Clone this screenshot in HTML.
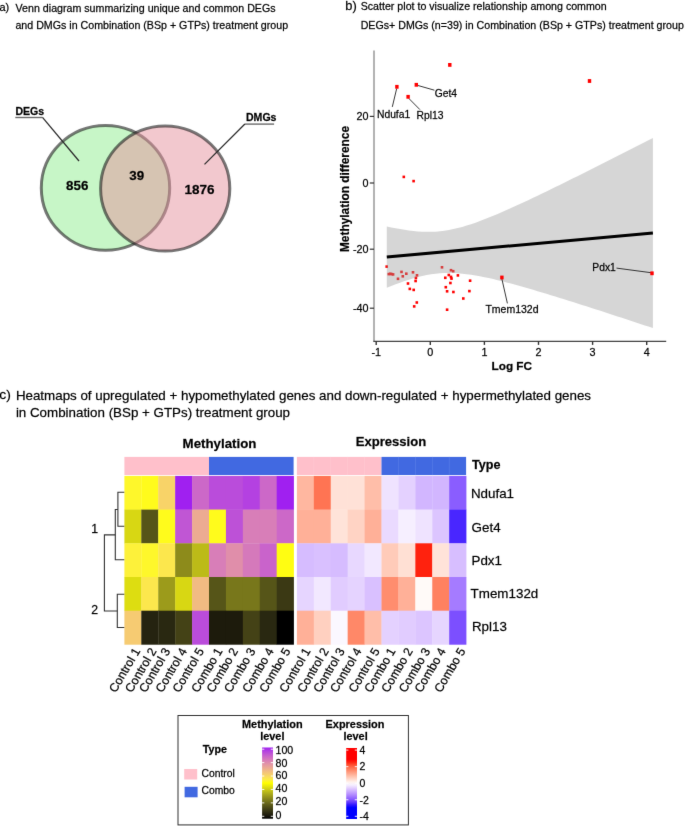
<!DOCTYPE html>
<html><head><meta charset="utf-8"><style>
html,body{margin:0;padding:0;background:#fff;}
svg{display:block;}
#w{width:685px;height:826px;}
text{font-family:"Liberation Sans", sans-serif;stroke:#000;stroke-width:0.3px;stroke-opacity:0.7;}
</style></head><body>
<div id="w"><svg width="685" height="826" viewBox="0 0 685 826">
<defs><linearGradient id="gm" x1="0" y1="0" x2="0" y2="1"><stop offset="0.00" stop-color="#a020f0"/><stop offset="0.05" stop-color="#b441e1"/><stop offset="0.10" stop-color="#c35ad1"/><stop offset="0.15" stop-color="#d171c1"/><stop offset="0.20" stop-color="#dc86b1"/><stop offset="0.25" stop-color="#e59ba0"/><stop offset="0.30" stop-color="#edaf8e"/><stop offset="0.35" stop-color="#f3c37a"/><stop offset="0.40" stop-color="#f8d763"/><stop offset="0.45" stop-color="#fceb46"/><stop offset="0.50" stop-color="#ffff00"/><stop offset="0.55" stop-color="#e3e210"/><stop offset="0.60" stop-color="#c7c617"/><stop offset="0.65" stop-color="#acab1a"/><stop offset="0.70" stop-color="#92901b"/><stop offset="0.75" stop-color="#78771b"/><stop offset="0.80" stop-color="#605e19"/><stop offset="0.85" stop-color="#484716"/><stop offset="0.90" stop-color="#323013"/><stop offset="0.95" stop-color="#1d1b0c"/><stop offset="1.00" stop-color="#000000"/></linearGradient>
<linearGradient id="ge" x1="0" y1="0" x2="0" y2="1"><stop offset="0.00" stop-color="#ff0000"/><stop offset="0.04" stop-color="#ff0000"/><stop offset="0.08" stop-color="#ff0000"/><stop offset="0.12" stop-color="#ff0000"/><stop offset="0.16" stop-color="#ff0000"/><stop offset="0.20" stop-color="#ff2410"/><stop offset="0.24" stop-color="#ff5233"/><stop offset="0.28" stop-color="#ff7251"/><stop offset="0.32" stop-color="#ff8e6f"/><stop offset="0.36" stop-color="#ffa88e"/><stop offset="0.40" stop-color="#ffc2ad"/><stop offset="0.44" stop-color="#ffdacd"/><stop offset="0.48" stop-color="#fff3ee"/><stop offset="0.52" stop-color="#f6f0ff"/><stop offset="0.56" stop-color="#e5d2ff"/><stop offset="0.60" stop-color="#d1b4ff"/><stop offset="0.64" stop-color="#bc97ff"/><stop offset="0.68" stop-color="#a57aff"/><stop offset="0.72" stop-color="#895cff"/><stop offset="0.76" stop-color="#673dff"/><stop offset="0.80" stop-color="#3117ff"/><stop offset="0.84" stop-color="#0000ff"/><stop offset="0.88" stop-color="#0000ff"/><stop offset="0.92" stop-color="#0000ff"/><stop offset="0.96" stop-color="#0000ff"/><stop offset="1.00" stop-color="#0000ff"/></linearGradient><filter id="bl" filterUnits="userSpaceOnUse" x="0" y="0" width="685" height="826" color-interpolation-filters="sRGB"><feConvolveMatrix order="3" kernelMatrix="0.00524 0.06192 0.00524 0.06192 0.73137 0.06192 0.00524 0.06192 0.00524" edgeMode="duplicate" preserveAlpha="true"/></filter></defs>
<rect width="685" height="826" fill="#fff"/>
<g filter="url(#bl)">
<rect width="685" height="826" fill="#fff"/>
<text x="-0.6" y="10.8" font-size="10.6" fill="#000" transform="matrix(1.03,0,0,1,0.018,0)">a)</text>
<text x="15.6" y="11.6" font-size="10.36" fill="#000" transform="matrix(1.03,0,0,1,-0.468,0)">Venn diagram summarizing unique and common DEGs</text>
<text x="15.4" y="29.2" font-size="10.36" fill="#000" transform="matrix(1.03,0,0,1,-0.462,0)">and DMGs in Combination (BSp + GTPs) treatment group</text>
<ellipse cx="105.5" cy="187.9" rx="64.2" ry="62.4" fill="rgb(144,238,144)" fill-opacity="0.5" stroke="#1e1e1e" stroke-opacity="0.6" stroke-width="3"/>
<ellipse cx="165.2" cy="188.5" rx="64.6" ry="62.6" fill="rgb(229,145,157)" fill-opacity="0.5" stroke="#1e1e1e" stroke-opacity="0.6" stroke-width="3"/>
<text x="77.3" y="189.9" font-size="13.0" font-weight="bold" text-anchor="middle" fill="#000" transform="matrix(1.03,0,0,1,-2.319,0)">856</text>
<text x="136.8" y="179.9" font-size="13.0" font-weight="bold" text-anchor="middle" fill="#000" transform="matrix(1.03,0,0,1,-4.104,0)">39</text>
<text x="199.6" y="193.9" font-size="13.1" font-weight="bold" text-anchor="middle" fill="#000" transform="matrix(1.03,0,0,1,-5.988,0)">1876</text>
<text x="15.4" y="115.1" font-size="10.15" font-weight="bold" fill="#000" transform="matrix(1.04,0,0,1,-0.616,0)">DEGs</text>
<line x1="15.3" y1="117.5" x2="42.5" y2="117.5" stroke="#6a6a6a" stroke-width="1.4" />
<line x1="42.5" y1="117.4" x2="79" y2="161" stroke="#2a2a2a" stroke-width="1.25" />
<text x="246.0" y="120.6" font-size="10.15" font-weight="bold" fill="#000" transform="matrix(1.04,0,0,1,-9.840,0)">DMGs</text>
<line x1="244.9" y1="124.1" x2="274.1" y2="124.1" stroke="#6a6a6a" stroke-width="1.4" />
<line x1="244.9" y1="124" x2="204.5" y2="164.4" stroke="#2a2a2a" stroke-width="1.25" />
<text x="345.3" y="9.6" font-size="12.45" fill="#000" transform="matrix(1.03,0,0,1,-10.359,0)">b)</text>
<text x="360.7" y="10.0" font-size="10.34" fill="#000" transform="matrix(1.03,0,0,1,-10.821,0)">Scatter plot to visualize relationship among common</text>
<text x="360.7" y="28.6" font-size="10.34" fill="#000" transform="matrix(1.03,0,0,1,-10.821,0)">DEGs+ DMGs (n=39) in Combination (BSp + GTPs) treatment group</text>
<rect x="402.50" y="175.60" width="2.60" height="2.60" fill="#ff0000" />
<rect x="412.30" y="179.80" width="2.60" height="2.60" fill="#ff0000" />
<rect x="385.40" y="265.30" width="2.60" height="2.60" fill="#ff0000" />
<rect x="387.50" y="272.80" width="2.60" height="2.60" fill="#ff0000" />
<rect x="389.00" y="272.50" width="2.60" height="2.60" fill="#ff0000" />
<rect x="390.30" y="272.80" width="2.60" height="2.60" fill="#ff0000" />
<rect x="391.80" y="273.10" width="2.60" height="2.60" fill="#ff0000" />
<rect x="396.70" y="277.50" width="2.60" height="2.60" fill="#ff0000" />
<rect x="400.20" y="270.60" width="2.60" height="2.60" fill="#ff0000" />
<rect x="401.50" y="275.00" width="2.60" height="2.60" fill="#ff0000" />
<rect x="405.00" y="272.40" width="2.60" height="2.60" fill="#ff0000" />
<rect x="406.70" y="282.20" width="2.60" height="2.60" fill="#ff0000" />
<rect x="408.50" y="287.60" width="2.60" height="2.60" fill="#ff0000" />
<rect x="412.40" y="288.60" width="2.60" height="2.60" fill="#ff0000" />
<rect x="411.70" y="271.00" width="2.60" height="2.60" fill="#ff0000" />
<rect x="415.70" y="274.00" width="2.60" height="2.60" fill="#ff0000" />
<rect x="414.60" y="276.60" width="2.60" height="2.60" fill="#ff0000" />
<rect x="414.30" y="279.70" width="2.60" height="2.60" fill="#ff0000" />
<rect x="415.50" y="301.20" width="2.60" height="2.60" fill="#ff0000" />
<rect x="412.90" y="305.10" width="2.60" height="2.60" fill="#ff0000" />
<rect x="440.70" y="266.00" width="2.60" height="2.60" fill="#ff0000" />
<rect x="449.70" y="268.90" width="2.60" height="2.60" fill="#ff0000" />
<rect x="451.90" y="269.90" width="2.60" height="2.60" fill="#ff0000" />
<rect x="447.50" y="273.70" width="2.60" height="2.60" fill="#ff0000" />
<rect x="444.00" y="276.50" width="2.60" height="2.60" fill="#ff0000" />
<rect x="449.70" y="275.60" width="2.60" height="2.60" fill="#ff0000" />
<rect x="450.20" y="277.30" width="2.60" height="2.60" fill="#ff0000" />
<rect x="456.60" y="274.10" width="2.60" height="2.60" fill="#ff0000" />
<rect x="468.80" y="279.40" width="2.60" height="2.60" fill="#ff0000" />
<rect x="449.10" y="281.70" width="2.60" height="2.60" fill="#ff0000" />
<rect x="444.50" y="285.90" width="2.60" height="2.60" fill="#ff0000" />
<rect x="445.80" y="290.00" width="2.60" height="2.60" fill="#ff0000" />
<rect x="452.10" y="290.70" width="2.60" height="2.60" fill="#ff0000" />
<rect x="468.10" y="289.80" width="2.60" height="2.60" fill="#ff0000" />
<rect x="462.00" y="297.20" width="2.60" height="2.60" fill="#ff0000" />
<rect x="445.80" y="308.40" width="2.60" height="2.60" fill="#ff0000" />
<path d="M386.80,226.41 L391.24,227.38 L395.67,228.28 L400.11,229.11 L404.54,229.85 L408.98,230.50 L413.41,231.04 L417.85,231.45 L422.28,231.73 L426.72,231.86 L431.15,231.83 L435.58,231.63 L440.02,231.26 L444.45,230.71 L448.89,229.99 L453.32,229.11 L457.76,228.07 L462.19,226.89 L466.63,225.59 L471.06,224.17 L475.50,222.66 L479.94,221.05 L484.37,219.37 L488.81,217.62 L493.24,215.81 L497.68,213.95 L502.11,212.04 L506.54,210.10 L510.98,208.12 L515.41,206.11 L519.85,204.08 L524.28,202.02 L528.72,199.94 L533.15,197.84 L537.59,195.72 L542.02,193.59 L546.46,191.45 L550.89,189.29 L555.33,187.12 L559.76,184.95 L564.20,182.76 L568.63,180.57 L573.07,178.36 L577.50,176.16 L581.94,173.94 L586.38,171.72 L590.81,169.50 L595.25,167.26 L599.68,165.03 L604.12,162.79 L608.55,160.55 L612.99,158.30 L617.42,156.05 L621.86,153.79 L626.29,151.54 L630.73,149.28 L635.16,147.02 L639.60,144.75 L644.03,142.49 L648.46,140.22 L652.90,137.95 L652.90,328.07 L648.46,326.60 L644.03,325.14 L639.60,323.67 L635.16,322.21 L630.73,320.75 L626.29,319.29 L621.86,317.84 L617.42,316.39 L612.99,314.94 L608.55,313.50 L604.12,312.06 L599.68,310.62 L595.25,309.19 L590.81,307.76 L586.38,306.33 L581.94,304.92 L577.50,303.50 L573.07,302.10 L568.63,300.70 L564.20,299.31 L559.76,297.92 L555.33,296.55 L550.89,295.18 L546.46,293.83 L542.02,292.49 L537.59,291.16 L533.15,289.85 L528.72,288.55 L524.28,287.27 L519.85,286.02 L515.41,284.78 L510.98,283.58 L506.54,282.40 L502.11,281.26 L497.68,280.15 L493.24,279.10 L488.81,278.09 L484.37,277.14 L479.94,276.26 L475.50,275.46 L471.06,274.74 L466.63,274.13 L462.19,273.63 L457.76,273.25 L453.32,273.02 L448.89,272.94 L444.45,273.02 L440.02,273.28 L435.58,273.71 L431.15,274.31 L426.72,275.08 L422.28,276.01 L417.85,277.09 L413.41,278.31 L408.98,279.65 L404.54,281.10 L400.11,282.65 L395.67,284.28 L391.24,285.99 L386.80,287.75 Z" fill="#999999" fill-opacity="0.4"/>
<line x1="386.8" y1="257.0819069069069" x2="652.9" y2="233.00904654654656" stroke="#000" stroke-width="3" />
<line x1="396.7" y1="88.5" x2="392.3" y2="106.9" stroke="#222" stroke-width="0.9" />
<line x1="418.0" y1="85.5" x2="434.4" y2="90.2" stroke="#222" stroke-width="0.9" />
<line x1="408.8" y1="98.4" x2="419.9" y2="109.6" stroke="#222" stroke-width="0.9" />
<line x1="501.9" y1="279" x2="507.4" y2="303.4" stroke="#222" stroke-width="0.9" />
<line x1="651" y1="272.7" x2="616.5" y2="268.1" stroke="#222" stroke-width="0.9" />
<rect x="448.10" y="63.00" width="3.40" height="3.80" fill="#ff0000" />
<rect x="587.80" y="79.10" width="3.40" height="3.80" fill="#ff0000" />
<rect x="395.20" y="84.90" width="3.40" height="3.80" fill="#ff0000" />
<rect x="414.60" y="82.90" width="3.40" height="3.80" fill="#ff0000" />
<rect x="406.40" y="94.90" width="3.40" height="3.80" fill="#ff0000" />
<rect x="500.20" y="275.60" width="3.40" height="3.80" fill="#ff0000" />
<rect x="650.30" y="271.40" width="3.40" height="3.80" fill="#ff0000" />
<text x="377.0" y="117.8" font-size="10.0" fill="#000" transform="matrix(1.03,0,0,1,-11.310,0)">Ndufa1</text>
<text x="434.8" y="96.7" font-size="10.0" fill="#000" transform="matrix(1.03,0,0,1,-13.044,0)">Get4</text>
<text x="416.6" y="119.4" font-size="10.0" fill="#000" transform="matrix(1.03,0,0,1,-12.498,0)">Rpl13</text>
<text x="485.4" y="312.8" font-size="10.2" fill="#000" transform="matrix(1.03,0,0,1,-14.562,0)">Tmem132d</text>
<text x="592.3" y="271.0" font-size="10.0" fill="#000" transform="matrix(1.03,0,0,1,-17.769,0)">Pdx1</text>
<line x1="374.0" y1="50.5" x2="374.0" y2="341.3" stroke="#999" stroke-width="1.5" />
<line x1="373.3" y1="341.3" x2="666.2" y2="341.3" stroke="#444" stroke-width="1.2" />
<line x1="369.8" y1="116.4" x2="374" y2="116.4" stroke="#333" stroke-width="1.2" />
<text x="368.6" y="120.30000000000001" font-size="10.5" text-anchor="end" fill="#000" transform="matrix(1.03,0,0,1,-11.058,0)">20</text>
<line x1="369.8" y1="183.0" x2="374" y2="183.0" stroke="#333" stroke-width="1.2" />
<text x="368.6" y="186.9" font-size="10.5" text-anchor="end" fill="#000" transform="matrix(1.03,0,0,1,-11.058,0)">0</text>
<line x1="369.8" y1="249.2" x2="374" y2="249.2" stroke="#333" stroke-width="1.2" />
<text x="368.6" y="253.1" font-size="10.5" text-anchor="end" fill="#000" transform="matrix(1.03,0,0,1,-11.058,0)">-20</text>
<line x1="369.8" y1="308.2" x2="374" y2="308.2" stroke="#333" stroke-width="1.2" />
<text x="368.6" y="312.09999999999997" font-size="10.5" text-anchor="end" fill="#000" transform="matrix(1.03,0,0,1,-11.058,0)">-40</text>
<line x1="376.2" y1="341.3" x2="376.2" y2="344.9" stroke="#333" stroke-width="1.4" />
<text x="376.2" y="356.2" font-size="10.5" text-anchor="middle" fill="#000" transform="matrix(1.03,0,0,1,-11.286,0)">-1</text>
<line x1="430.3" y1="341.3" x2="430.3" y2="344.9" stroke="#333" stroke-width="1.4" />
<text x="430.3" y="356.2" font-size="10.5" text-anchor="middle" fill="#000" transform="matrix(1.03,0,0,1,-12.909,0)">0</text>
<line x1="484.40000000000003" y1="341.3" x2="484.40000000000003" y2="344.9" stroke="#333" stroke-width="1.4" />
<text x="484.40000000000003" y="356.2" font-size="10.5" text-anchor="middle" fill="#000" transform="matrix(1.03,0,0,1,-14.532,0)">1</text>
<line x1="538.5" y1="341.3" x2="538.5" y2="344.9" stroke="#333" stroke-width="1.4" />
<text x="538.5" y="356.2" font-size="10.5" text-anchor="middle" fill="#000" transform="matrix(1.03,0,0,1,-16.155,0)">2</text>
<line x1="592.6" y1="341.3" x2="592.6" y2="344.9" stroke="#333" stroke-width="1.4" />
<text x="592.6" y="356.2" font-size="10.5" text-anchor="middle" fill="#000" transform="matrix(1.03,0,0,1,-17.778,0)">3</text>
<line x1="646.7" y1="341.3" x2="646.7" y2="344.9" stroke="#333" stroke-width="1.4" />
<text x="646.7" y="356.2" font-size="10.5" text-anchor="middle" fill="#000" transform="matrix(1.03,0,0,1,-19.401,0)">4</text>
<text x="511.8" y="369.8" font-size="11.45" font-weight="bold" text-anchor="middle" fill="#000" transform="matrix(1.03,0,0,1,-15.354,0)">Log FC</text>
<text x="0" y="0" font-size="11.9" font-weight="bold" text-anchor="middle" fill="#000" transform="translate(349.2,189) scale(1.03,1) rotate(-90)">Methylation difference</text>
<text x="-0.7" y="398.6" font-size="13.5" fill="#000" transform="matrix(1.03,0,0,1,0.021,0)">c)</text>
<text x="15.9" y="399.6" font-size="12.98" fill="#000" transform="matrix(1.03,0,0,1,-0.477,0)">Heatmaps of upregulated + hypomethylated genes and down-regulated + hypermethylated genes</text>
<text x="15.9" y="417.4" font-size="12.98" fill="#000" transform="matrix(1.03,0,0,1,-0.477,0)">in Combination (BSp + GTPs) treatment group</text>
<rect x="124.40" y="456.90" width="84.60" height="18.15" fill="#ffc0cb" />
<rect x="209.00" y="456.90" width="84.60" height="18.15" fill="#4169e1" />
<rect x="296.90" y="456.90" width="84.60" height="18.15" fill="#ffc0cb" />
<rect x="381.50" y="456.90" width="84.60" height="18.15" fill="#4169e1" />
<rect x="313.52" y="456.90" width="0.60" height="18.15" fill="#ffcad3" />
<rect x="330.44" y="456.90" width="0.60" height="18.15" fill="#ffcad3" />
<rect x="347.36" y="456.90" width="0.60" height="18.15" fill="#ffcad3" />
<rect x="364.28" y="456.90" width="0.60" height="18.15" fill="#ffcad3" />
<rect x="398.12" y="456.90" width="0.60" height="18.15" fill="#5a7fe8" />
<rect x="415.04" y="456.90" width="0.60" height="18.15" fill="#5a7fe8" />
<rect x="431.96" y="456.90" width="0.60" height="18.15" fill="#5a7fe8" />
<rect x="448.88" y="456.90" width="0.60" height="18.15" fill="#5a7fe8" />
<rect x="124.40" y="475.90" width="17.22" height="34.00" fill="#fef72b" />
<rect x="296.90" y="475.90" width="17.22" height="34.00" fill="#ffb7a0" />
<rect x="141.32" y="475.90" width="17.22" height="34.00" fill="#fffb1c" />
<rect x="313.82" y="475.90" width="17.22" height="34.00" fill="#ff7453" />
<rect x="158.24" y="475.90" width="17.22" height="34.00" fill="#f8d368" />
<rect x="330.74" y="475.90" width="17.22" height="34.00" fill="#ffe1d7" />
<rect x="175.16" y="475.90" width="17.22" height="34.00" fill="#a020f0" />
<rect x="347.66" y="475.90" width="17.22" height="34.00" fill="#ffe1d7" />
<rect x="192.08" y="475.90" width="17.22" height="34.00" fill="#cc68c8" />
<rect x="364.58" y="475.90" width="17.22" height="34.00" fill="#ffbea9" />
<rect x="209.00" y="475.90" width="17.22" height="34.00" fill="#ba4cdb" />
<rect x="381.50" y="475.90" width="17.22" height="34.00" fill="#efe3ff" />
<rect x="225.92" y="475.90" width="17.22" height="34.00" fill="#ba4cdb" />
<rect x="398.42" y="475.90" width="17.22" height="34.00" fill="#e4d1ff" />
<rect x="242.84" y="475.90" width="17.22" height="34.00" fill="#b441e1" />
<rect x="415.34" y="475.90" width="17.22" height="34.00" fill="#d2b6ff" />
<rect x="259.76" y="475.90" width="17.22" height="34.00" fill="#cc68c8" />
<rect x="432.26" y="475.90" width="17.22" height="34.00" fill="#d2b6ff" />
<rect x="276.68" y="475.90" width="17.22" height="34.00" fill="#a020f0" />
<rect x="449.18" y="475.90" width="17.22" height="34.00" fill="#8a5dff" />
<rect x="124.40" y="509.60" width="17.22" height="34.00" fill="#d8d713" />
<rect x="296.90" y="509.60" width="17.22" height="34.00" fill="#ffb098" />
<rect x="141.32" y="509.60" width="17.22" height="34.00" fill="#565518" />
<rect x="313.82" y="509.60" width="17.22" height="34.00" fill="#ffb098" />
<rect x="158.24" y="509.60" width="17.22" height="34.00" fill="#fffb1c" />
<rect x="330.74" y="509.60" width="17.22" height="34.00" fill="#ffe3d9" />
<rect x="175.16" y="509.60" width="17.22" height="34.00" fill="#c056d4" />
<rect x="347.66" y="509.60" width="17.22" height="34.00" fill="#ffd3c4" />
<rect x="192.08" y="509.60" width="17.22" height="34.00" fill="#ecab92" />
<rect x="364.58" y="509.60" width="17.22" height="34.00" fill="#ffb098" />
<rect x="209.00" y="509.60" width="17.22" height="34.00" fill="#fffb1c" />
<rect x="381.50" y="509.60" width="17.22" height="34.00" fill="#eadaff" />
<rect x="225.92" y="509.60" width="17.22" height="34.00" fill="#bd51d7" />
<rect x="398.42" y="509.60" width="17.22" height="34.00" fill="#f6efff" />
<rect x="242.84" y="509.60" width="17.22" height="34.00" fill="#d87eb8" />
<rect x="415.34" y="509.60" width="17.22" height="34.00" fill="#efe3ff" />
<rect x="259.76" y="509.60" width="17.22" height="34.00" fill="#d87eb8" />
<rect x="432.26" y="509.60" width="17.22" height="34.00" fill="#dcc5ff" />
<rect x="276.68" y="509.60" width="17.22" height="34.00" fill="#cc68c8" />
<rect x="449.18" y="509.60" width="17.22" height="34.00" fill="#4926ff" />
<rect x="124.40" y="543.30" width="17.22" height="34.00" fill="#fdf13a" />
<rect x="296.90" y="543.30" width="17.22" height="34.00" fill="#d6bcff" />
<rect x="141.32" y="543.30" width="17.22" height="34.00" fill="#fef72b" />
<rect x="313.82" y="543.30" width="17.22" height="34.00" fill="#d9c0ff" />
<rect x="158.24" y="543.30" width="17.22" height="34.00" fill="#fce74d" />
<rect x="330.74" y="543.30" width="17.22" height="34.00" fill="#d6bcff" />
<rect x="175.16" y="543.30" width="17.22" height="34.00" fill="#8d8b1b" />
<rect x="347.66" y="543.30" width="17.22" height="34.00" fill="#e8d8ff" />
<rect x="192.08" y="543.30" width="17.22" height="34.00" fill="#bcbb18" />
<rect x="364.58" y="543.30" width="17.22" height="34.00" fill="#f2e8ff" />
<rect x="209.00" y="543.30" width="17.22" height="34.00" fill="#d87eb8" />
<rect x="381.50" y="543.30" width="17.22" height="34.00" fill="#ffcbb9" />
<rect x="225.92" y="543.30" width="17.22" height="34.00" fill="#e08eaa" />
<rect x="398.42" y="543.30" width="17.22" height="34.00" fill="#ffe0d4" />
<rect x="242.84" y="543.30" width="17.22" height="34.00" fill="#d579bb" />
<rect x="415.34" y="543.30" width="17.22" height="34.00" fill="#ff220e" />
<rect x="259.76" y="543.30" width="17.22" height="34.00" fill="#c963cb" />
<rect x="432.26" y="543.30" width="17.22" height="34.00" fill="#ffe3d9" />
<rect x="276.68" y="543.30" width="17.22" height="34.00" fill="#fffd12" />
<rect x="449.18" y="543.30" width="17.22" height="34.00" fill="#d7beff" />
<rect x="124.40" y="577.00" width="17.22" height="34.00" fill="#dddd11" />
<rect x="296.90" y="577.00" width="17.22" height="34.00" fill="#e6d5ff" />
<rect x="141.32" y="577.00" width="17.22" height="34.00" fill="#fce74d" />
<rect x="313.82" y="577.00" width="17.22" height="34.00" fill="#f2e8ff" />
<rect x="158.24" y="577.00" width="17.22" height="34.00" fill="#9c9b1b" />
<rect x="330.74" y="577.00" width="17.22" height="34.00" fill="#e1ccff" />
<rect x="175.16" y="577.00" width="17.22" height="34.00" fill="#d8d713" />
<rect x="347.66" y="577.00" width="17.22" height="34.00" fill="#e5d3ff" />
<rect x="192.08" y="577.00" width="17.22" height="34.00" fill="#f1bb82" />
<rect x="364.58" y="577.00" width="17.22" height="34.00" fill="#d9c0ff" />
<rect x="209.00" y="577.00" width="17.22" height="34.00" fill="#565518" />
<rect x="381.50" y="577.00" width="17.22" height="34.00" fill="#ff8d6e" />
<rect x="225.92" y="577.00" width="17.22" height="34.00" fill="#78771b" />
<rect x="398.42" y="577.00" width="17.22" height="34.00" fill="#ffb098" />
<rect x="242.84" y="577.00" width="17.22" height="34.00" fill="#78771b" />
<rect x="415.34" y="577.00" width="17.22" height="34.00" fill="#fffaf8" />
<rect x="259.76" y="577.00" width="17.22" height="34.00" fill="#565518" />
<rect x="432.26" y="577.00" width="17.22" height="34.00" fill="#ff8160" />
<rect x="276.68" y="577.00" width="17.22" height="34.00" fill="#3b3914" />
<rect x="449.18" y="577.00" width="17.22" height="34.00" fill="#a57bff" />
<rect x="124.40" y="610.70" width="17.22" height="34.00" fill="#f6cb72" />
<rect x="296.90" y="610.70" width="17.22" height="34.00" fill="#ffb098" />
<rect x="141.32" y="610.70" width="17.22" height="34.00" fill="#252310" />
<rect x="313.82" y="610.70" width="17.22" height="34.00" fill="#ffd0c0" />
<rect x="158.24" y="610.70" width="17.22" height="34.00" fill="#292811" />
<rect x="330.74" y="610.70" width="17.22" height="34.00" fill="#fbf8ff" />
<rect x="175.16" y="610.70" width="17.22" height="34.00" fill="#444216" />
<rect x="347.66" y="610.70" width="17.22" height="34.00" fill="#ff8868" />
<rect x="192.08" y="610.70" width="17.22" height="34.00" fill="#ba4cdb" />
<rect x="364.58" y="610.70" width="17.22" height="34.00" fill="#ffbea9" />
<rect x="209.00" y="610.70" width="17.22" height="34.00" fill="#1d1b0c" />
<rect x="381.50" y="610.70" width="17.22" height="34.00" fill="#e4d1ff" />
<rect x="225.92" y="610.70" width="17.22" height="34.00" fill="#1d1b0c" />
<rect x="398.42" y="610.70" width="17.22" height="34.00" fill="#e1ccff" />
<rect x="242.84" y="610.70" width="17.22" height="34.00" fill="#444216" />
<rect x="415.34" y="610.70" width="17.22" height="34.00" fill="#dcc5ff" />
<rect x="259.76" y="610.70" width="17.22" height="34.00" fill="#292811" />
<rect x="432.26" y="610.70" width="17.22" height="34.00" fill="#e6d5ff" />
<rect x="276.68" y="610.70" width="17.22" height="34.00" fill="#000000" />
<rect x="449.18" y="610.70" width="17.22" height="34.00" fill="#7c4fff" />
<text x="219.5" y="447.8" font-size="12.9" font-weight="bold" text-anchor="middle" fill="#000" transform="matrix(1.03,0,0,1,-6.585,0)">Methylation</text>
<text x="391.0" y="446.4" font-size="12.7" font-weight="bold" text-anchor="middle" fill="#000" transform="matrix(1.03,0,0,1,-11.730,0)">Expression</text>
<text x="472.0" y="469.4" font-size="12.25" font-weight="bold" fill="#000" transform="matrix(1.03,0,0,1,-14.160,0)">Type</text>
<text x="470.9" y="497.7" font-size="13.0" fill="#000" transform="matrix(1.03,0,0,1,-14.127,0)">Ndufa1</text>
<text x="471.6" y="531.6" font-size="13.0" fill="#000" transform="matrix(1.03,0,0,1,-14.148,0)">Get4</text>
<text x="471.5" y="565.0" font-size="13.0" fill="#000" transform="matrix(1.03,0,0,1,-14.145,0)">Pdx1</text>
<text x="470.6" y="597.9" font-size="13.0" fill="#000" transform="matrix(1.03,0,0,1,-14.118,0)">Tmem132d</text>
<text x="471.9" y="630.9" font-size="13.0" fill="#000" transform="matrix(1.03,0,0,1,-14.157,0)">Rpl13</text>
<path d="M124.3,492.2 H117.9 V526.2 H124.3" fill="none" stroke="#333" stroke-width="1.1"/>
<path d="M117.9,509.5 H115.3 V559.8 H124.3" fill="none" stroke="#333" stroke-width="1.1"/>
<path d="M124.3,594.2 H117.3 V627.5 H124.3" fill="none" stroke="#333" stroke-width="1.1"/>
<path d="M115.3,534.9 H104.4 V611 H117.3" fill="none" stroke="#333" stroke-width="1.1"/>
<text x="98.0" y="533.2" font-size="11.9" text-anchor="end" fill="#000" transform="matrix(1.03,0,0,1,-2.940,0)">1</text>
<text x="98.0" y="614.3" font-size="11.9" text-anchor="end" fill="#000" transform="matrix(1.03,0,0,1,-2.940,0)">2</text>
<text x="0" y="0" font-size="12" text-anchor="end" fill="#000" transform="translate(140.76,651.00) scale(1.03,1) rotate(-60)">Control 1</text>
<text x="0" y="0" font-size="12" text-anchor="end" fill="#000" transform="translate(156.88,651.00) scale(1.03,1) rotate(-60)">Control 2</text>
<text x="0" y="0" font-size="12" text-anchor="end" fill="#000" transform="translate(170.80,651.00) scale(1.03,1) rotate(-60)">Control 3</text>
<text x="0" y="0" font-size="12" text-anchor="end" fill="#000" transform="translate(187.32,651.00) scale(1.03,1) rotate(-60)">Control 4</text>
<text x="0" y="0" font-size="12" text-anchor="end" fill="#000" transform="translate(204.34,651.00) scale(1.03,1) rotate(-60)">Control 5</text>
<text x="0" y="0" font-size="12" text-anchor="end" fill="#000" transform="translate(222.96,651.00) scale(1.03,1) rotate(-60)">Combo 1</text>
<text x="0" y="0" font-size="12" text-anchor="end" fill="#000" transform="translate(238.38,651.00) scale(1.03,1) rotate(-60)">Combo 2</text>
<text x="0" y="0" font-size="12" text-anchor="end" fill="#000" transform="translate(255.90,651.00) scale(1.03,1) rotate(-60)">Combo 3</text>
<text x="0" y="0" font-size="12" text-anchor="end" fill="#000" transform="translate(274.12,651.00) scale(1.03,1) rotate(-60)">Combo 4</text>
<text x="0" y="0" font-size="12" text-anchor="end" fill="#000" transform="translate(290.94,651.00) scale(1.03,1) rotate(-60)">Combo 5</text>
<text x="0" y="0" font-size="12" text-anchor="end" fill="#000" transform="translate(311.06,651.00) scale(1.03,1) rotate(-60)">Control 1</text>
<text x="0" y="0" font-size="12" text-anchor="end" fill="#000" transform="translate(329.08,651.00) scale(1.03,1) rotate(-60)">Control 2</text>
<text x="0" y="0" font-size="12" text-anchor="end" fill="#000" transform="translate(345.10,651.00) scale(1.03,1) rotate(-60)">Control 3</text>
<text x="0" y="0" font-size="12" text-anchor="end" fill="#000" transform="translate(361.92,651.00) scale(1.03,1) rotate(-60)">Control 4</text>
<text x="0" y="0" font-size="12" text-anchor="end" fill="#000" transform="translate(380.24,651.00) scale(1.03,1) rotate(-60)">Control 5</text>
<text x="0" y="0" font-size="12" text-anchor="end" fill="#000" transform="translate(396.06,651.00) scale(1.03,1) rotate(-60)">Combo 1</text>
<text x="0" y="0" font-size="12" text-anchor="end" fill="#000" transform="translate(413.08,651.00) scale(1.03,1) rotate(-60)">Combo 2</text>
<text x="0" y="0" font-size="12" text-anchor="end" fill="#000" transform="translate(430.60,651.00) scale(1.03,1) rotate(-60)">Combo 3</text>
<text x="0" y="0" font-size="12" text-anchor="end" fill="#000" transform="translate(446.22,651.00) scale(1.03,1) rotate(-60)">Combo 4</text>
<text x="0" y="0" font-size="12" text-anchor="end" fill="#000" transform="translate(465.94,651.00) scale(1.03,1) rotate(-60)">Combo 5</text>
<rect x="178" y="715.5" width="230.4" height="109.4" fill="none" stroke="#333" stroke-width="1"/>
<text x="214.8" y="753.5" font-size="10.4" font-weight="bold" text-anchor="middle" fill="#000" transform="matrix(1.03,0,0,1,-6.444,0)">Type</text>
<rect x="184.20" y="769.00" width="13.00" height="10.50" fill="#ffc0cb" />
<rect x="184.60" y="786.80" width="13.00" height="10.50" fill="#4169e1" />
<text x="201.5" y="776.8" font-size="10.05" fill="#000" transform="matrix(1.03,0,0,1,-6.045,0)">Control</text>
<text x="201.5" y="793.8" font-size="10.05" fill="#000" transform="matrix(1.03,0,0,1,-6.045,0)">Combo</text>
<text x="272.3" y="727.8" font-size="10.6" font-weight="bold" text-anchor="middle" fill="#000" transform="matrix(1.03,0,0,1,-8.169,0)">Methylation</text>
<text x="272.3" y="740.2" font-size="10.6" font-weight="bold" text-anchor="middle" fill="#000" transform="matrix(1.03,0,0,1,-8.169,0)">level</text>
<text x="355.0" y="727.8" font-size="10.6" font-weight="bold" text-anchor="middle" fill="#000" transform="matrix(1.03,0,0,1,-10.650,0)">Expression</text>
<text x="355.6" y="740.2" font-size="10.6" font-weight="bold" text-anchor="middle" fill="#000" transform="matrix(1.03,0,0,1,-10.668,0)">level</text>
<rect x="262.10" y="747.50" width="10.90" height="71.20" fill="url(#gm)" />
<line x1="262.1" y1="749.2" x2="264.3" y2="749.2" stroke="#fff" stroke-width="0.9" />
<line x1="270.8" y1="749.2" x2="273" y2="749.2" stroke="#fff" stroke-width="0.9" />
<text x="275.6" y="753.9000000000001" font-size="10.3" fill="#000" transform="matrix(1.03,0,0,1,-8.268,0)">100</text>
<line x1="262.1" y1="762.62" x2="264.3" y2="762.62" stroke="#fff" stroke-width="0.9" />
<line x1="270.8" y1="762.62" x2="273" y2="762.62" stroke="#fff" stroke-width="0.9" />
<text x="275.6" y="766.8000000000001" font-size="10.3" fill="#000" transform="matrix(1.03,0,0,1,-8.268,0)">80</text>
<line x1="262.1" y1="776.04" x2="264.3" y2="776.04" stroke="#fff" stroke-width="0.9" />
<line x1="270.8" y1="776.04" x2="273" y2="776.04" stroke="#fff" stroke-width="0.9" />
<text x="275.6" y="778.7" font-size="10.3" fill="#000" transform="matrix(1.03,0,0,1,-8.268,0)">60</text>
<line x1="262.1" y1="789.46" x2="264.3" y2="789.46" stroke="#fff" stroke-width="0.9" />
<line x1="270.8" y1="789.46" x2="273" y2="789.46" stroke="#fff" stroke-width="0.9" />
<text x="275.6" y="792.3000000000001" font-size="10.3" fill="#000" transform="matrix(1.03,0,0,1,-8.268,0)">40</text>
<line x1="262.1" y1="802.88" x2="264.3" y2="802.88" stroke="#fff" stroke-width="0.9" />
<line x1="270.8" y1="802.88" x2="273" y2="802.88" stroke="#fff" stroke-width="0.9" />
<text x="275.6" y="805.2" font-size="10.3" fill="#000" transform="matrix(1.03,0,0,1,-8.268,0)">20</text>
<line x1="262.1" y1="816.3" x2="264.3" y2="816.3" stroke="#fff" stroke-width="0.9" />
<line x1="270.8" y1="816.3" x2="273" y2="816.3" stroke="#fff" stroke-width="0.9" />
<text x="275.6" y="819.0" font-size="10.3" fill="#000" transform="matrix(1.03,0,0,1,-8.268,0)">0</text>
<rect x="346.20" y="748.00" width="10.80" height="71.00" fill="url(#ge)" />
<line x1="346.2" y1="750.1" x2="348.4" y2="750.1" stroke="#fff" stroke-width="0.9" />
<line x1="354.8" y1="750.1" x2="357" y2="750.1" stroke="#fff" stroke-width="0.9" />
<text x="359.4" y="753.9" font-size="10.2" fill="#000" transform="matrix(1.03,0,0,1,-10.782,0)">4</text>
<line x1="346.2" y1="766.65" x2="348.4" y2="766.65" stroke="#fff" stroke-width="0.9" />
<line x1="354.8" y1="766.65" x2="357" y2="766.65" stroke="#fff" stroke-width="0.9" />
<text x="359.4" y="770.4499999999999" font-size="10.2" fill="#000" transform="matrix(1.03,0,0,1,-10.782,0)">2</text>
<line x1="346.2" y1="783.2" x2="348.4" y2="783.2" stroke="#fff" stroke-width="0.9" />
<line x1="354.8" y1="783.2" x2="357" y2="783.2" stroke="#fff" stroke-width="0.9" />
<text x="359.4" y="787.0" font-size="10.2" fill="#000" transform="matrix(1.03,0,0,1,-10.782,0)">0</text>
<line x1="346.2" y1="799.75" x2="348.4" y2="799.75" stroke="#fff" stroke-width="0.9" />
<line x1="354.8" y1="799.75" x2="357" y2="799.75" stroke="#fff" stroke-width="0.9" />
<text x="359.4" y="803.55" font-size="10.2" fill="#000" transform="matrix(1.03,0,0,1,-10.782,0)">-2</text>
<line x1="346.2" y1="816.3" x2="348.4" y2="816.3" stroke="#fff" stroke-width="0.9" />
<line x1="354.8" y1="816.3" x2="357" y2="816.3" stroke="#fff" stroke-width="0.9" />
<text x="359.4" y="820.0999999999999" font-size="10.2" fill="#000" transform="matrix(1.03,0,0,1,-10.782,0)">-4</text>
</g>
</svg></div>
</body></html>
